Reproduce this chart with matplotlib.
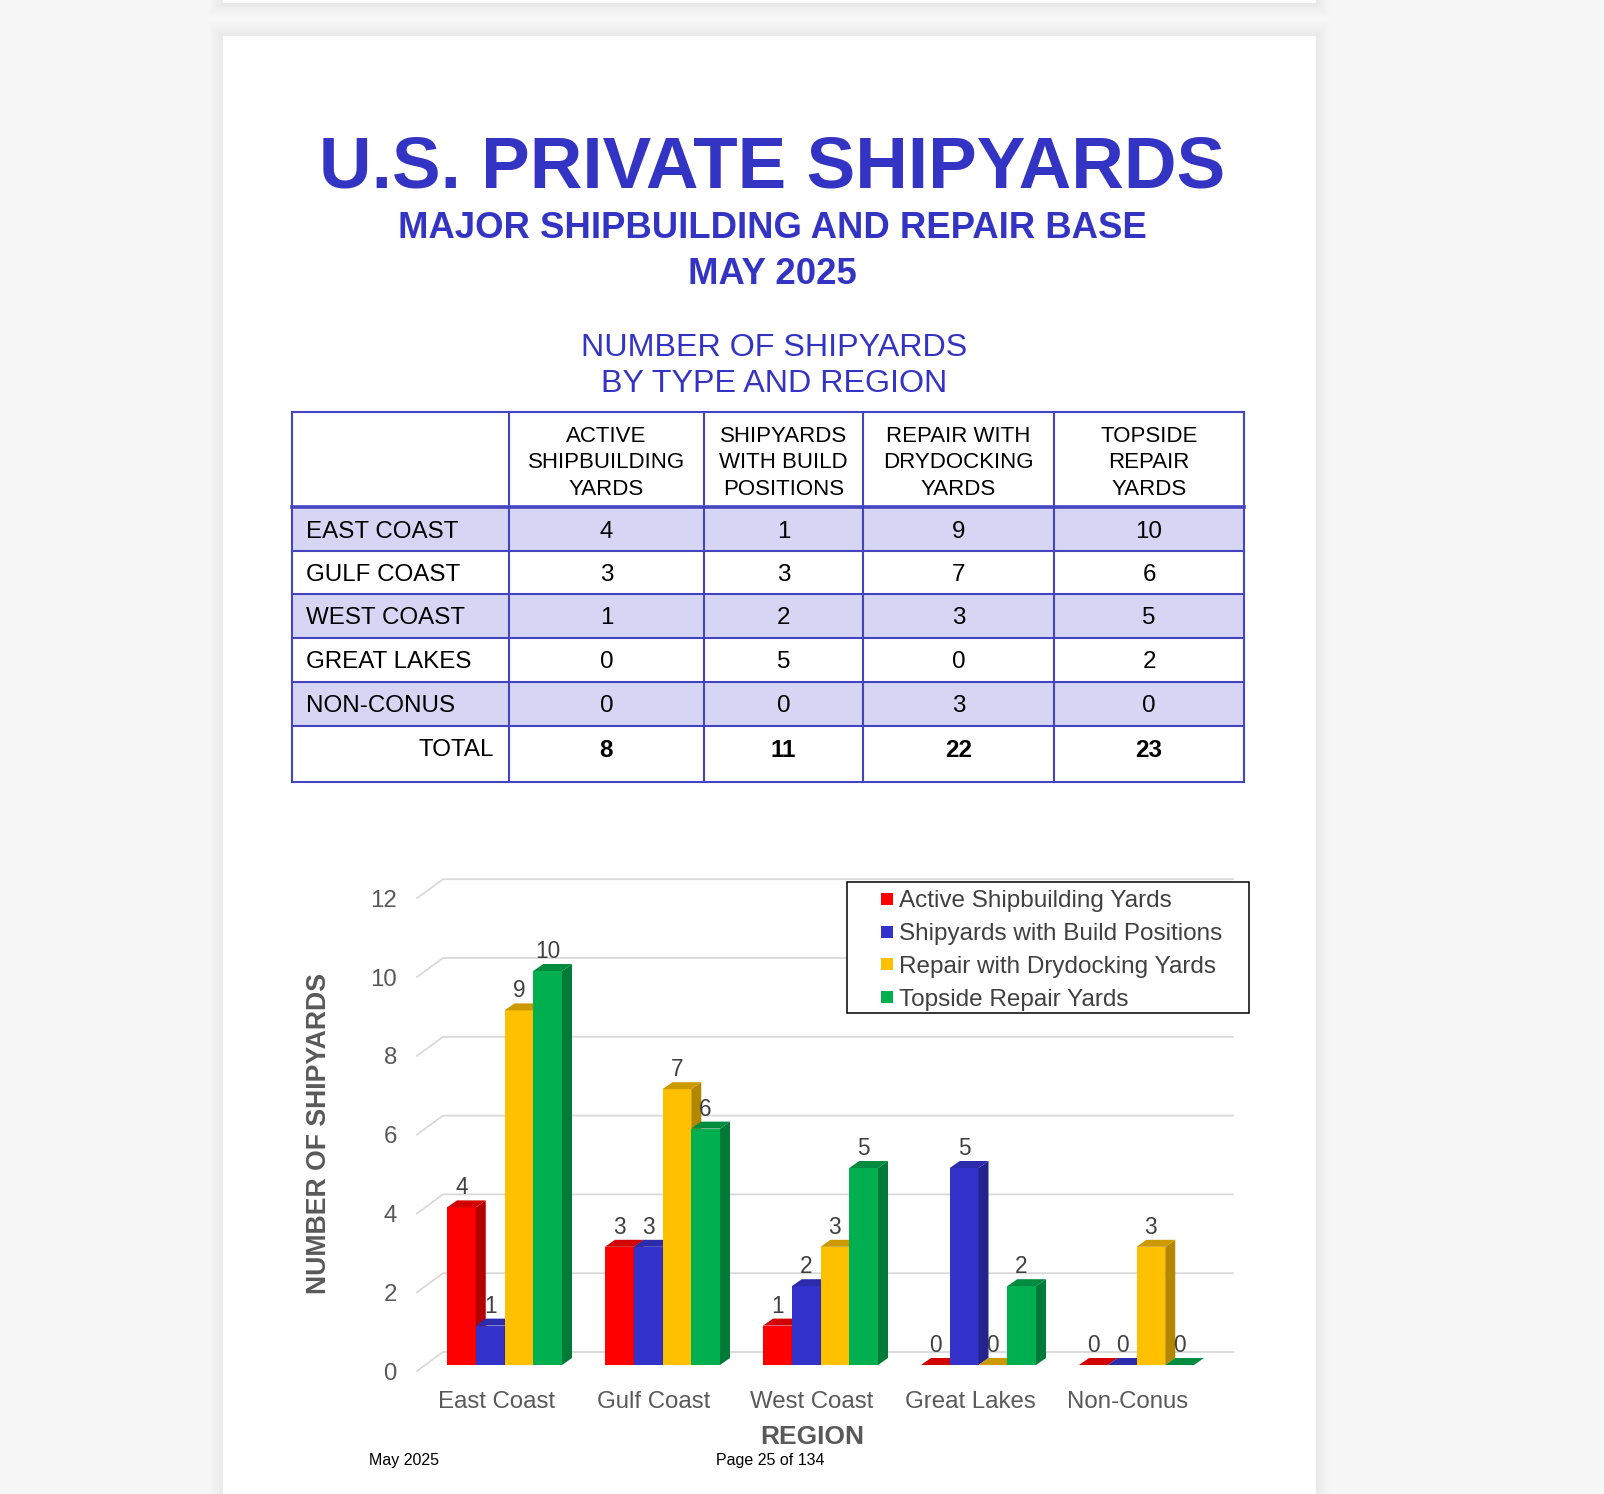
import matplotlib
matplotlib.use("Agg")
import matplotlib.pyplot as plt
from matplotlib.patches import Rectangle
from matplotlib.collections import PolyCollection

plt.rcParams['font.family'] = ['Liberation Sans', 'DejaVu Sans']

# ---- data ----
regions = ["East Coast", "Gulf Coast", "West Coast", "Great Lakes", "Non-Conus"]
table_rows = ["EAST COAST", "GULF COAST", "WEST COAST", "GREAT LAKES", "NON-CONUS"]
series = ["Active Shipbuilding Yards", "Shipyards with Build Positions",
          "Repair with Drydocking Yards", "Topside Repair Yards"]
col_heads = [["ACTIVE", "SHIPBUILDING", "YARDS"],
             ["SHIPYARDS", "WITH BUILD", "POSITIONS"],
             ["REPAIR WITH", "DRYDOCKING", "YARDS"],
             ["TOPSIDE", "REPAIR", "YARDS"]]
active = [4, 3, 1, 0, 0]
build_pos = [1, 3, 2, 5, 0]
drydock = [9, 7, 3, 0, 3]
topside = [10, 6, 5, 2, 0]
yticks = [0, 2, 4, 6, 8, 10, 12]

W, H = 1604, 1494
BLUE = "#3434c4"
LINE = "#4444c0"
SHADE = "#d6d6f4"
GRAY = "#595959"
DARK = "#404040"

fig = plt.figure(figsize=(W / 100, H / 100), dpi=100)
fig.patch.set_facecolor("#f7f7f7")

# page layer (pixel coords, y down)
pg = fig.add_axes([0, 0, 1, 1])
pg.set_xlim(0, W)
pg.set_ylim(H, 0)
pg.axis("off")
pg.set_zorder(0)

PL, PR, PT = 223, 1316, 36
for s in range(14, 0, -1):
    pg.add_patch(Rectangle((PL - s, PT - s), PR - PL + 2 * s, H, fc="black",
                           alpha=0.005, ec="none"))
    pg.add_patch(Rectangle((PL - s, -20), PR - PL + 2 * s, 23 + s, fc="black",
                           alpha=0.005, ec="none"))
pg.add_patch(Rectangle((PL, -20), PR - PL, 23, fc="white", ec="none"))
pg.add_patch(Rectangle((PL, PT), PR - PL, H, fc="white", ec="none"))

# titles
cx = 772
pg.text(cx, 161, "U.S. PRIVATE SHIPYARDS", color=BLUE, fontsize=52.5,
        fontweight="bold", ha="center", va="center_baseline")
pg.text(cx, 225, "MAJOR SHIPBUILDING AND REPAIR BASE", color=BLUE, fontsize=26.3,
        fontweight="bold", ha="center", va="center_baseline")
pg.text(cx, 270, "MAY 2025", color=BLUE, fontsize=26.3,
        fontweight="bold", ha="center", va="center_baseline")
pg.text(774, 344, "NUMBER OF SHIPYARDS", color=BLUE, fontsize=23.2,
        ha="center", va="center_baseline")
pg.text(774, 381, "BY TYPE AND REGION", color=BLUE, fontsize=23.2,
        ha="center", va="center_baseline")

# table
col_x = [292, 509, 704, 863, 1054, 1244]
row_y = [412, 507, 551, 594, 638, 682, 726, 782]
cols = [active, build_pos, drydock, topside]
for r in range(len(table_rows)):
    if r % 2 == 0:
        pg.add_patch(Rectangle((col_x[0], row_y[r + 1]), col_x[-1] - col_x[0],
                               row_y[r + 2] - row_y[r + 1], fc=SHADE, ec="none"))
for x in col_x:
    pg.plot([x, x], [row_y[0], row_y[-1]], color=LINE, lw=1.5, solid_capstyle="projecting")
for k, y in enumerate(row_y):
    pg.plot([col_x[0], col_x[-1]], [y, y], color=LINE,
            lw=2.6 if k == 1 else 1.5, solid_capstyle="projecting")
for c, lines in enumerate(col_heads):
    xm = (col_x[c + 1] + col_x[c + 2]) / 2
    for k, t in enumerate(lines):
        pg.text(xm, 434 + 26.5 * k, t, fontsize=16, ha="center",
                va="center_baseline", color="black")
for r, name in enumerate(table_rows):
    ym = (row_y[r + 1] + row_y[r + 2]) / 2
    pg.text(306, ym, name, fontsize=17.4, ha="left", va="center_baseline", color="black")
    for c, vals in enumerate(cols):
        xm = (col_x[c + 1] + col_x[c + 2]) / 2
        pg.text(xm, ym, str(vals[r]), fontsize=17.4, ha="center",
                va="center_baseline", color="black")
pg.text(494, 748, "TOTAL", fontsize=17.4, ha="right", va="center_baseline", color="black")
for c, vals in enumerate(cols):
    xm = (col_x[c + 1] + col_x[c + 2]) / 2
    pg.text(xm, 748, str(sum(vals)), fontsize=17.4, fontweight="bold", ha="center",
            va="center_baseline", color="black")

# ---- 3D-look clustered bar chart ----
X0, GX = 496.0, 158.0    # px of first category, px per category
Y0, GY = 1365.0, 39.4    # px of value 0 at bar front, px per unit
L, R, T, B = 360, 1260, 850, 1420
ax = fig.add_axes([L / W, 1 - B / H, (R - L) / W, (B - T) / H])
ax.set_xlim((L - X0) / GX, (R - X0) / GX)
ax.set_ylim((Y0 - B) / GY, (Y0 - T) / GY)
ax.axis("off")
ax.set_zorder(1)

FDY, WDY = -6 / GY, 13 / GY
xs0, xs1, xe = (417 - X0) / GX, (443 - X0) / GX, (1233 - X0) / GX
for v in yticks:
    ax.plot([xs0, xs1, xe], [v + FDY, v + WDY, v + WDY], color="#d9d9d9", lw=1.3, zorder=1)
    ax.text((397 - X0) / GX, v + FDY, str(v), fontsize=17.3, color=GRAY,
            ha="right", va="center_baseline")
for i, name in enumerate(regions):
    ax.text(i, (Y0 - 1399.5) / GY, name, fontsize=17.3, color=GRAY,
            ha="center", va="center_baseline")

front = ["#ff0000", "#3333cc", "#ffc000", "#00b050"]
side = ["#b50000", "#23238e", "#b38700", "#007a37"]
top = ["#d20000", "#2b2bab", "#cc9900", "#008c3f"]
BW = 28.75 / GX
G0 = (447 - X0) / GX
DX, DY = 10 / GX, 7 / GY
for j, vals in enumerate([active, build_pos, drydock, topside]):
    z = 3 + 3 * j
    xs = [i + G0 + j * BW for i in range(len(regions))]
    ax.bar(xs, vals, width=BW, align="edge", color=front[j], lw=0, zorder=z)
    sides = [[(x + BW, 0), (x + BW, v), (x + BW + DX, v + DY), (x + BW + DX, DY)]
             for x, v in zip(xs, vals)]
    tops = [[(x, v), (x + BW, v), (x + BW + DX, v + DY), (x + DX, v + DY)]
            for x, v in zip(xs, vals)]
    ax.add_collection(PolyCollection(sides, facecolors=side[j], edgecolors="none", zorder=z))
    ax.add_collection(PolyCollection(tops, facecolors=top[j], edgecolors="none", zorder=z))
    for x, v in zip(xs, vals):
        ax.text(x + BW / 2, v + DY + 6 / GY, str(v), fontsize=16.3, color=DARK,
                ha="center", va="baseline", zorder=z + 1)

# overlay: legend, axis titles, footer
ov = fig.add_axes([0, 0, 1, 1])
ov.set_xlim(0, W)
ov.set_ylim(H, 0)
ov.axis("off")
ov.set_zorder(2)
ov.add_patch(Rectangle((847, 882), 402, 131, fc="white", ec="black", lw=1.1))
for j, name in enumerate(series):
    yc = 899 + 32.7 * j
    ov.add_patch(Rectangle((881, yc - 6), 12, 12, fc=front[j], ec="none"))
    ov.text(899, yc, name, fontsize=17.5, color=DARK, ha="left", va="center_baseline")

ov.text(319, 1133, "NUMBER OF SHIPYARDS", fontsize=19.2, fontweight="bold", color=GRAY,
        rotation=90, ha="center", va="center")
ov.text(812, 1435, "REGION", fontsize=19, fontweight="bold", color=GRAY,
        ha="center", va="center_baseline")
ov.text(369, 1459, "May 2025", fontsize=11.5, color="black", ha="left", va="center_baseline")
ov.text(716, 1459, "Page 25 of 134", fontsize=11.5, color="black", ha="left",
        va="center_baseline")

fig.savefig("out.png", dpi=100, facecolor=fig.get_facecolor())
